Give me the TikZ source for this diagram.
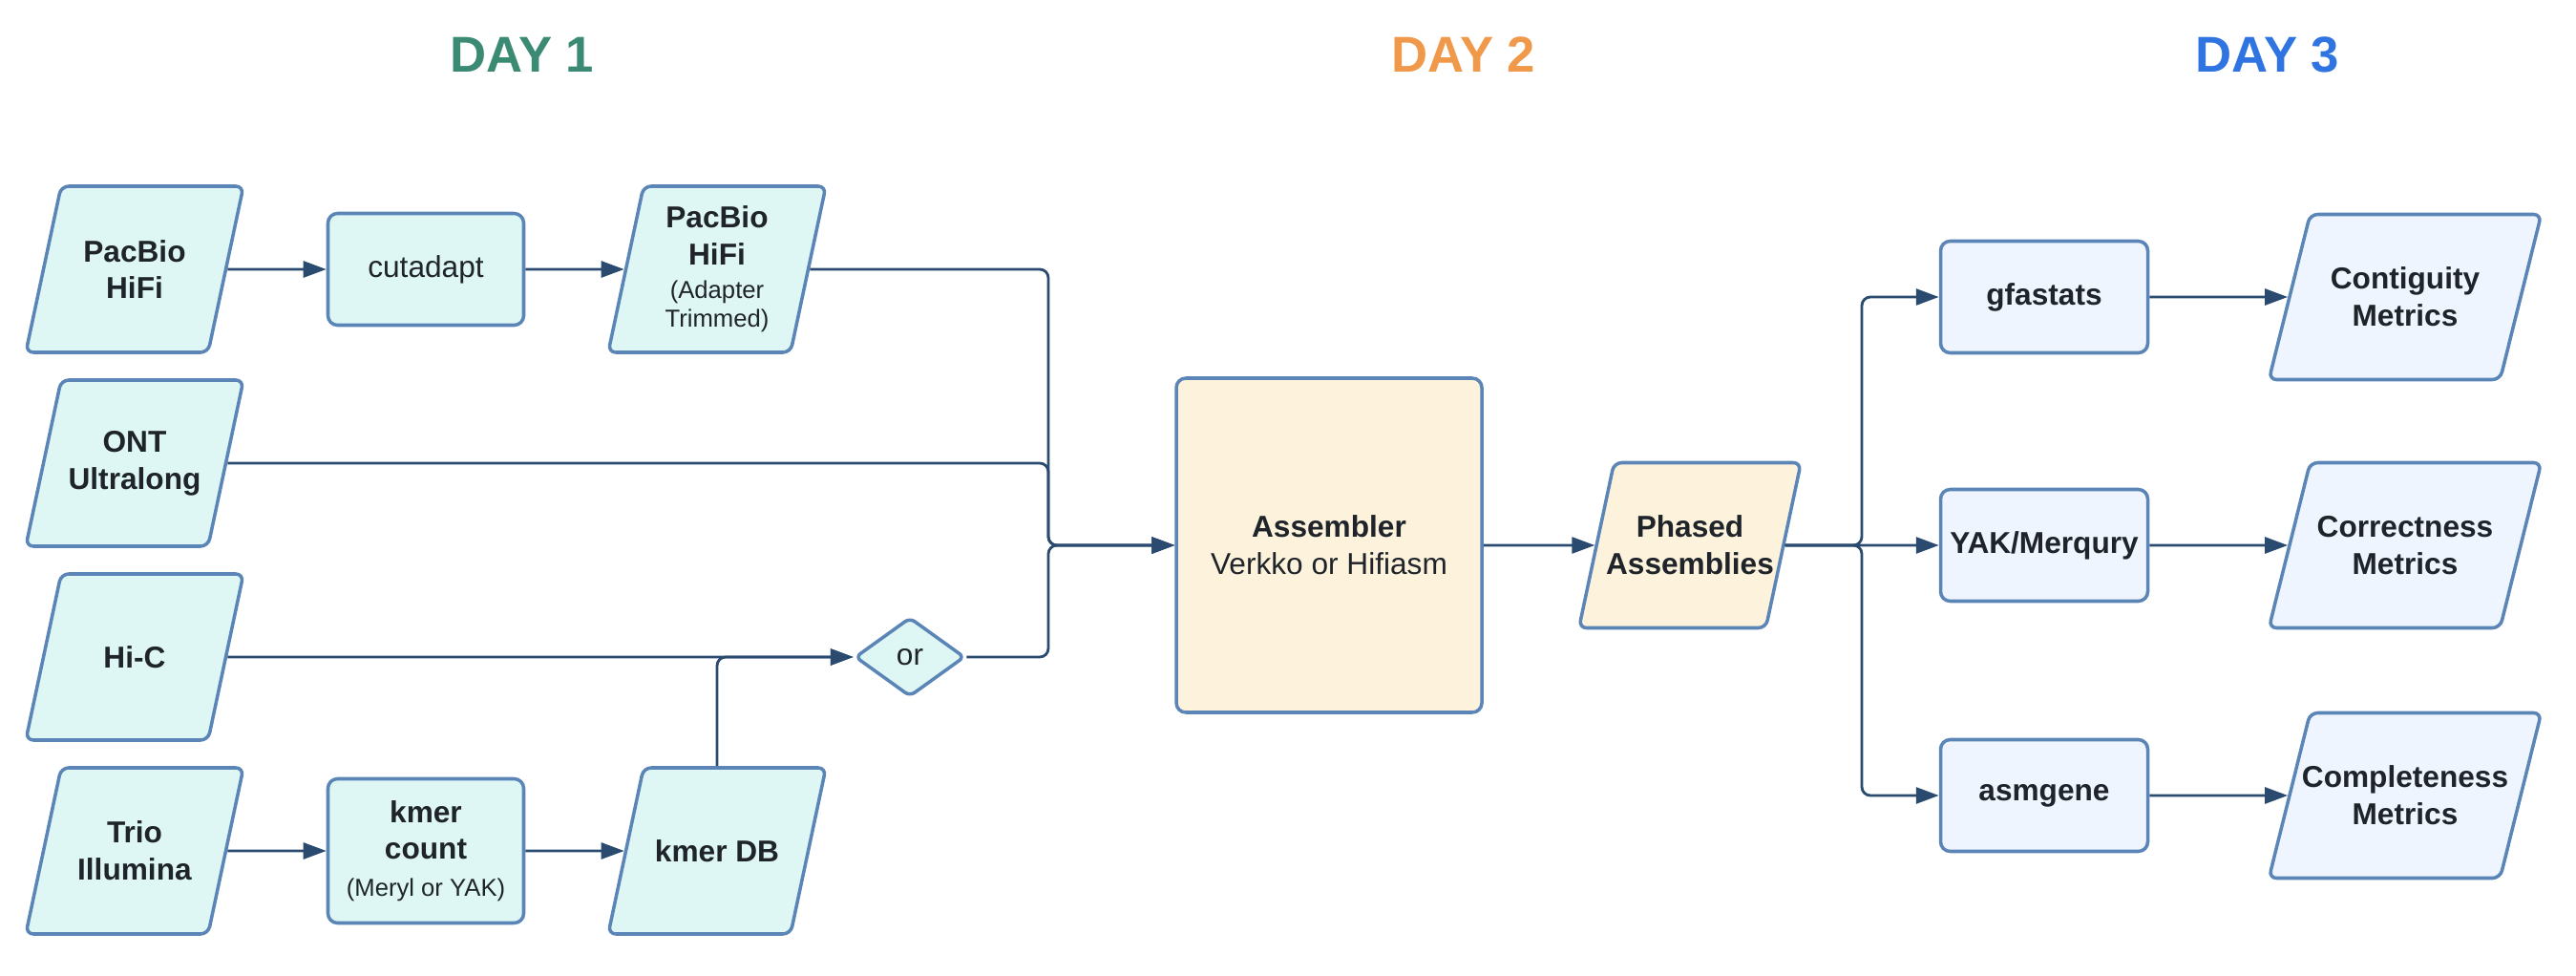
\documentclass[tikz,border=0pt]{standalone}
\usepackage{fontspec}
\setmainfont{Liberation Sans}
\usetikzlibrary{arrows.meta,positioning,shapes.geometric}
\definecolor{edgeblue}{HTML}{5A85B6}
\definecolor{linknavy}{HTML}{2B4A6F}
\definecolor{inkgrey}{HTML}{1E2429}
\definecolor{cyanfill}{HTML}{DEF7F5}
\definecolor{creamfill}{HTML}{FDF2DC}
\definecolor{bluefill}{HTML}{EEF5FE}
\definecolor{dayone}{HTML}{3B8A74}
\definecolor{daytwo}{HTML}{F0994A}
\definecolor{daythree}{HTML}{2F74E0}
\tikzset{every picture/.style={/utils/exec={\fontsize{9}{11}\selectfont}}}
% parallelogram with a fixed text box: body width, body height, angle
\tikzset{slanted/.style n args={3}{trapezium, trapezium left angle=#3, trapezium right angle=180-#3,
  inner sep=0pt, rounded corners=0.08cm, draw=edgeblue, line width=1pt, text=inkgrey,
  execute at begin node={\begin{minipage}[c][#2][c]{#1}\centering},
  execute at end node={\end{minipage}}}}
\newcommand{\smalltxt}{\fontsize{7.3}{9}\selectfont}
\newcommand{\wideline}[1]{\makebox[\linewidth]{#1}}

\begin{document}
\begin{tikzpicture}[node distance=2.03cm]
  \tikzstyle{dataset} = [slanted={1.54cm}{1.74cm}{78}]
  \tikzstyle{phasedset} = [slanted={1.59cm}{1.73cm}{78}]
  \tikzstyle{metric} = [slanted={1.99cm}{1.73cm}{76}]
  \tikzstyle{tool} = [rectangle, rounded corners=0.1cm, minimum width=2.05cm, minimum height=1.17cm, draw=edgeblue, line width=1pt, text=inkgrey, align=center, inner sep=0pt]
  \tikzstyle{choice} = [diamond, rounded corners=0.06cm, minimum width=1.15cm, minimum height=0.83cm, draw=edgeblue, line width=1pt, text=inkgrey, inner sep=0pt]
  \tikzstyle{day1} = [fill=cyanfill]
  \tikzstyle{day2} = [fill=creamfill]
  \tikzstyle{day3} = [fill=bluefill]
  \tikzstyle{daytitle} = [font=\fontsize{15}{18}\selectfont\bfseries, inner sep=0pt]

  \tikzstyle{arrow} = [-{Triangle[length=0.24cm, width=0.17cm]}, draw=linknavy, line width=0.8pt, rounded corners=0.09cm]

  \useasboundingbox (0,0) rectangle (26.98,-10.22);

  \node (title1) [daytitle, text=dayone] at (5.47,-0.57) {DAY 1};
  \node (title2) [daytitle, text=daytwo] at (15.33,-0.57) {DAY 2};
  \node (title3) [daytitle, text=daythree] at (23.75,-0.57) {DAY 3};

  % day 1: inputs and preprocessing
  \node (pacbio) [dataset, day1] at (1.41,-2.82) {\textbf{PacBio}\\\textbf{HiFi}};
  \node (cutadapt) [tool, day1, right of=pacbio, xshift=1.02cm] {cutadapt};
  \node (trimmed) [dataset, day1, right of=cutadapt, xshift=1.02cm] {\textbf{PacBio}\\\textbf{HiFi}\\[-1pt]{\smalltxt (Adapter}\\[-2.5pt]{\smalltxt Trimmed)}};
  \node (ont) [dataset, day1, below of=pacbio] {\textbf{ONT}\\\textbf{Ultralong}};
  \node (hic) [dataset, day1, below of=ont] {\textbf{Hi-C}};
  \node (trio) [dataset, day1, below of=hic] {\textbf{Trio}\\\textbf{Illumina}};
  \node (kmer) [tool, day1, minimum height=1.51cm, right of=trio, xshift=1.02cm] {\textbf{kmer}\\\textbf{count}\\{\smalltxt (Meryl or YAK)}};
  \node (kmerdb) [dataset, day1, right of=kmer, xshift=1.02cm] {\textbf{kmer DB}};
  \node (or) [choice, day1] at (9.53,-6.88) {or};
  \coordinate (join) at (10.98,-5.71);

  % day 2: assembly
  \node (asm) [tool, day2, minimum width=3.2cm, minimum height=3.5cm] at (13.92,-5.71) {\textbf{Assembler}\\Verkko or Hifiasm};
  \node (phased) [phasedset, day2] at (17.70,-5.71) {\textbf{Phased}\\\wideline{\textbf{Assemblies}}};
  \coordinate (split) at (19.50,-5.71);

  % day 3: evaluation
  \node (yak) [tool, day3, minimum width=2.17cm] at (21.41,-5.71) {\textbf{YAK/Merqury}};
  \node (gfa) [tool, day3, minimum width=2.17cm, above of=yak, yshift=0.57cm] {\textbf{gfastats}};
  \node (asmgene) [tool, day3, minimum width=2.17cm, below of=yak, yshift=-0.59cm] {\textbf{asmgene}};
  \node (contig) [metric, day3, right of=gfa, xshift=1.75cm] {\textbf{Contiguity}\\\textbf{Metrics}};
  \node (correct) [metric, day3, right of=yak, xshift=1.75cm] {\textbf{Correctness}\\\textbf{Metrics}};
  \node (complete) [metric, day3, right of=asmgene, xshift=1.75cm] {\wideline{\textbf{Completeness}}\\\textbf{Metrics}};

  \draw [arrow] (pacbio) -- (cutadapt);
  \draw [arrow] (cutadapt) -- (trimmed);
  \draw [arrow] (trio) -- (kmer);
  \draw [arrow] (kmer) -- (kmerdb);
  \draw [arrow] (hic.east) -- (or.west);
  \draw [arrow] (kmerdb.north) |- (or.west);
  % all reads meet before the assembler
  \draw [arrow] (trimmed.east) -| (join) -- (asm.west);
  \draw [arrow] (ont.east) -| (join) -- (asm.west);
  \draw [arrow] (or.east) -| (join) -- (asm.west);
  \draw [arrow] (asm) -- (phased);
  % fan out to the three checks
  \draw [arrow] (phased.east) -- (split) |- (gfa.west);
  \draw [arrow] (phased.east) -- (yak.west);
  \draw [arrow] (phased.east) -- (split) |- (asmgene.west);
  \draw [arrow] (gfa) -- (contig);
  \draw [arrow] (yak) -- (correct);
  \draw [arrow] (asmgene) -- (complete);
\end{tikzpicture}
\end{document}
